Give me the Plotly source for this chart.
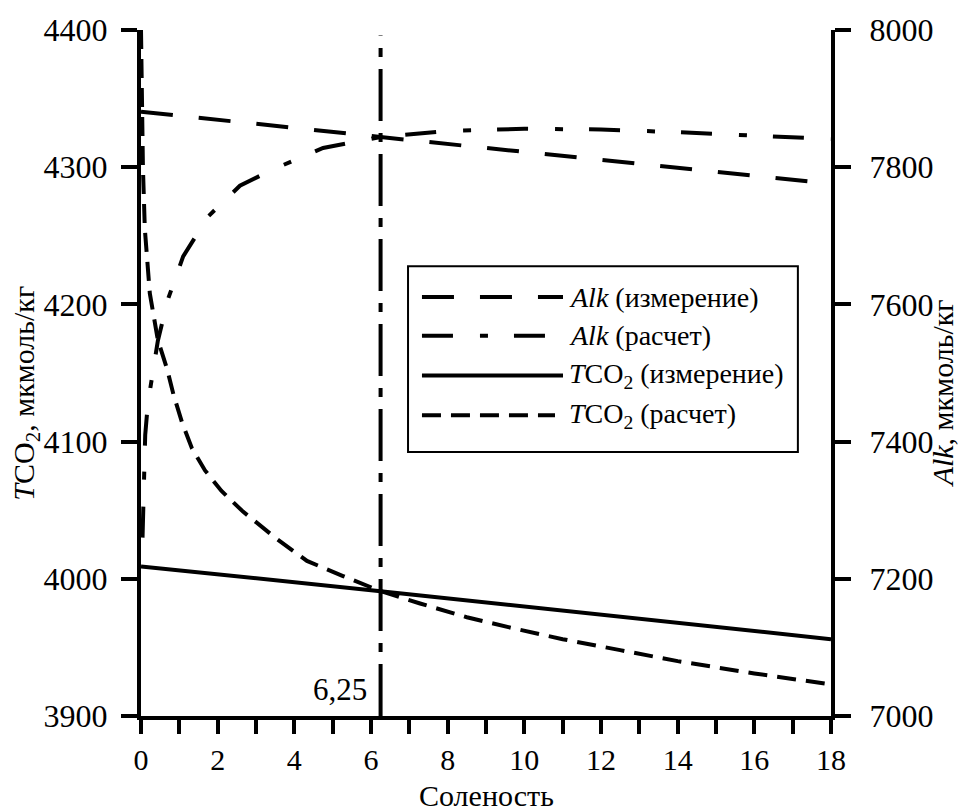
import plotly.graph_objects as go

FONT = "Liberation Serif"

# ---------------- data ----------------
salinity_range = [0, 18]

tco2_meas_x = [0, 6.25, 18]
tco2_meas_y = [4009, 3991, 3956]

tco2_calc_x = [0, 0.02, 0.05, 0.1, 0.15, 0.23, 0.44, 0.68, 0.85, 1.07, 1.33, 1.67,
               2.1, 2.66, 3.5, 4.33, 5.27, 6.25, 7.28, 8.5, 9.7, 11, 12.5, 14, 16, 18]
tco2_calc_y = [4400, 4341, 4300, 4255, 4235, 4208, 4174, 4153, 4134, 4114, 4095, 4079,
               4064, 4049, 4030, 4013, 4002, 3991, 3982, 3972, 3964, 3956, 3948, 3940, 3931, 3923]

alk_meas_x = [0, 6.25, 18]
alk_meas_y = [7881, 7844, 7776]

alk_calc_x = [0.04, 0.07, 0.11, 0.18, 0.29, 0.44, 0.7, 1.1, 1.75, 2.58, 3.45, 4.75,
              6.25, 8, 10, 12, 14, 16, 18]
alk_calc_y = [7260, 7340, 7410, 7456, 7498, 7547, 7607, 7670, 7728, 7773, 7797, 7828,
              7844, 7853, 7856, 7855, 7851, 7846, 7841]

mark_x = 6.25
mark_label = "6,25"
mark_y = [3900, 4396]

left_ticks = [3900, 4000, 4100, 4200, 4300, 4400]
right_ticks = [7000, 7200, 7400, 7600, 7800, 8000]
x_ticks = [0, 2, 4, 6, 8, 10, 12, 14, 16, 18]

legend_labels = ["<i>Alk</i> (измерение)", "<i>Alk</i> (расчет)",
                 "<i>T</i>CO<sub>2</sub> (измерение)", "<i>T</i>CO<sub>2</sub> (расчет)"]

# ---------------- styles ----------------
LW = 4
dash_alk_meas = "32px,26px"
dash_alk_calc = "31px,27px,8px,26px"
dash_tco2_calc = "19px,10px"
dash_mark = "52px,12px,9px,12px"

fig = go.Figure()

fig.add_trace(go.Scatter(x=alk_meas_x, y=alk_meas_y, yaxis="y2", mode="lines",
                         line=dict(color="black", width=LW, dash=dash_alk_meas), showlegend=False))
fig.add_trace(go.Scatter(x=alk_calc_x, y=alk_calc_y, yaxis="y2", mode="lines",
                         line=dict(color="black", width=LW, dash=dash_alk_calc), showlegend=False))
fig.add_trace(go.Scatter(x=tco2_meas_x, y=tco2_meas_y, mode="lines",
                         line=dict(color="black", width=LW), showlegend=False))
fig.add_trace(go.Scatter(x=tco2_calc_x, y=tco2_calc_y, mode="lines",
                         line=dict(color="black", width=LW, dash=dash_tco2_calc), showlegend=False))
fig.add_trace(go.Scatter(x=[mark_x, mark_x], y=mark_y, mode="lines",
                         line=dict(color="black", width=LW, dash=dash_mark), showlegend=False))

# ---------------- manual legend ----------------
box = dict(x0=0.387, x1=0.952, y0=0.385, y1=0.6556)
rows_y = [0.6107, 0.5543, 0.4964, 0.4385]
sample_x0 = 0.4072
sample_x1 = [0.6116, 0.5884, 0.6116, 0.6000]
sample_dash = [dash_alk_meas, dash_alk_calc, "solid", dash_tco2_calc]
text_x = 0.6174

shapes = [dict(type="rect", xref="paper", yref="paper", **box,
               line=dict(color="black", width=2), fillcolor="white", layer="above")]
annotations = []
for i, lab in enumerate(legend_labels):
    shapes.append(dict(type="line", xref="paper", yref="paper",
                       x0=sample_x0, x1=sample_x1[i], y0=rows_y[i], y1=rows_y[i],
                       line=dict(color="black", width=LW, dash=sample_dash[i]), layer="above"))
    annotations.append(dict(xref="paper", yref="paper", x=text_x, y=rows_y[i],
                            xanchor="left", yanchor="middle", text=lab, showarrow=False,
                            font=dict(family=FONT, size=28, color="black")))

annotations.append(dict(xref="x", yref="y", x=mark_x, y=3919, xanchor="right", yanchor="middle",
                        xshift=-12, text=mark_label, showarrow=False,
                        font=dict(family=FONT, size=31, color="black")))
annotations.append(dict(xref="paper", yref="paper", x=0.5, y=-0.1155, xanchor="center", yanchor="middle",
                        text="Соленость", showarrow=False,
                        font=dict(family=FONT, size=30, color="black")))
annotations.append(dict(xref="paper", yref="paper", x=-0.168, y=0.47, xanchor="center", yanchor="middle",
                        textangle=-90, text="<i>T</i>CO<sub>2</sub>, мкмоль/кг", showarrow=False,
                        font=dict(family=FONT, size=30, color="black")))
annotations.append(dict(xref="paper", yref="paper", x=1.162, y=0.47, xanchor="center", yanchor="middle",
                        textangle=-90, text="<i>Alk</i>, мкмоль/кг", showarrow=False,
                        font=dict(family=FONT, size=30, color="black")))

ytickfont = dict(family=FONT, size=32, color="black")
xtickfont = dict(family=FONT, size=30, color="black")

fig.update_layout(
    width=960, height=812,
    margin=dict(l=141, r=129, t=25, b=96),
    paper_bgcolor="white", plot_bgcolor="white",
    font=dict(family=FONT, color="black"),
    xaxis=dict(range=salinity_range, tickvals=x_ticks, ticks="outside", ticklen=14, tickwidth=4,
               tickcolor="black", showline=True, linecolor="black", linewidth=4, showgrid=False,
               zeroline=False, tickfont=xtickfont, ticklabelstandoff=0,
               minor=dict(dtick=1, ticks="outside", ticklen=14, tickwidth=4, tickcolor="black", showgrid=False)),
    yaxis=dict(range=[3900, 4400], tickvals=left_ticks, ticks="outside", ticklen=16, tickwidth=4,
               tickcolor="black", showline=True, linecolor="black", linewidth=4, showgrid=False,
               zeroline=False, tickfont=ytickfont, ticklabelstandoff=7),
    yaxis2=dict(range=[7000, 8000], tickvals=right_ticks, overlaying="y", side="right",
                ticks="outside", ticklen=16, tickwidth=4, tickcolor="black", showline=True,
                linecolor="black", linewidth=4, showgrid=False, zeroline=False, tickfont=ytickfont,
                ticklabelstandoff=12),
    shapes=shapes,
    annotations=annotations,
    showlegend=False,
)

fig.write_html("out.html")
